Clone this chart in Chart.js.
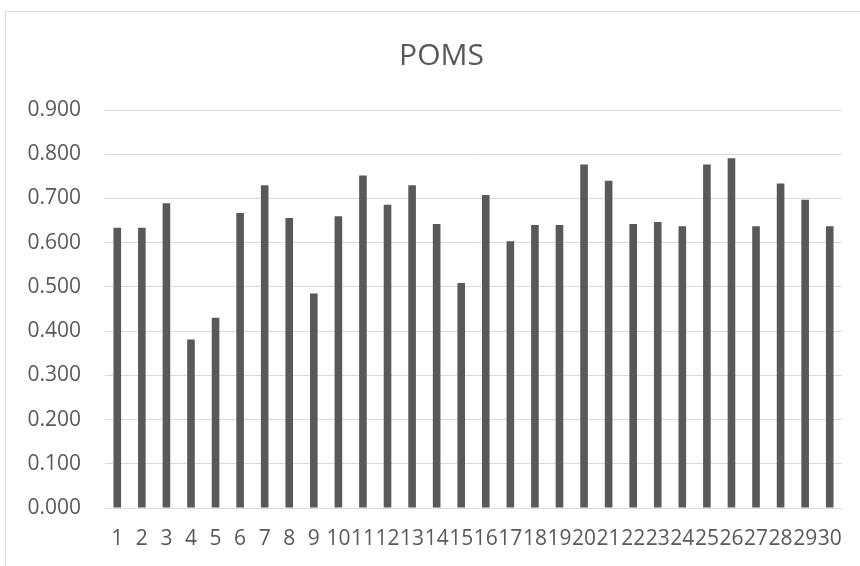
<!DOCTYPE html>
<html lang="en">
<head>
  <meta charset="UTF-8">
  <title>POMS</title>
  <script src="https://cdn.jsdelivr.net/npm/chart.js"></script>
  <style>
    html, body { margin: 0; padding: 0; background: #fff; }
    #wrap { width: 860px; height: 566px; }
  </style>
</head>
<body>
  <div id="wrap">
    <canvas id="myChart" width="860" height="566"></canvas>
  </div>

  <script>
    const labels = ['1','2','3','4','5','6','7','8','9','10','11','12','13','14','15',
                    '16','17','18','19','20','21','22','23','24','25','26','27','28','29','30'];
    const poms = [0.634, 0.634, 0.689, 0.381, 0.430, 0.667, 0.730, 0.656, 0.485, 0.660,
                  0.752, 0.686, 0.730, 0.642, 0.509, 0.708, 0.603, 0.640, 0.640, 0.777,
                  0.740, 0.642, 0.647, 0.637, 0.777, 0.791, 0.637, 0.734, 0.697, 0.637];
    const chartTitle = 'POMS';

    const textColor = '#595959';
    const gridColor = '#d9d9d9';

    // light frame round the chart plus the title, placed like the Excel chart
    const frame = {
      id: 'frame',
      beforeDraw(chart) {
        const c = chart.ctx;
        c.save();
        c.strokeStyle = gridColor;
        c.lineWidth = 1;
        c.strokeRect(5.5, 11.5, 900, 700);
        c.restore();
      },
      afterDraw(chart) {
        const c = chart.ctx;
        c.save();
        c.fillStyle = textColor;
        c.font = '30px "Open Sans"';
        c.textAlign = 'center';
        c.textBaseline = 'alphabetic';
        c.fillText(chartTitle, 441.5, 65);
        c.restore();
      }
    };

    const ctx = document.getElementById('myChart').getContext('2d');
    new Chart(ctx, {
      type: 'bar',
      data: {
        labels: labels,
        datasets: [{
          label: chartTitle,
          data: poms,
          backgroundColor: '#595959',
          barPercentage: 0.31,
          categoryPercentage: 1.0
        }]
      },
      options: {
        responsive: false,
        animation: false,
        layout: { padding: { left: 0, right: 16, top: 110, bottom: 0 } },
        plugins: {
          legend: { display: false },
          tooltip: { enabled: false },
          title: { display: false }
        },
        scales: {
          x: {
            grid: { display: false, drawTicks: false },
            border: { display: false },
            ticks: {
              color: textColor,
              font: { family: 'Open Sans', size: 21 },
              autoSkip: false,
              maxRotation: 0,
              minRotation: 0,
              padding: 18
            },
            afterFit(scale) { scale.height = 58; }
          },
          y: {
            min: 0,
            max: 0.9,
            border: { display: false },
            grid: { color: gridColor, lineWidth: 1, drawTicks: false },
            ticks: {
              stepSize: 0.1,
              color: textColor,
              font: { family: 'Open Sans', size: 21 },
              padding: 24,
              callback: v => v.toFixed(3)
            },
            afterFit(scale) { scale.width = 105; }
          }
        }
      },
      plugins: [frame]
    });
  </script>
</body>
</html>
